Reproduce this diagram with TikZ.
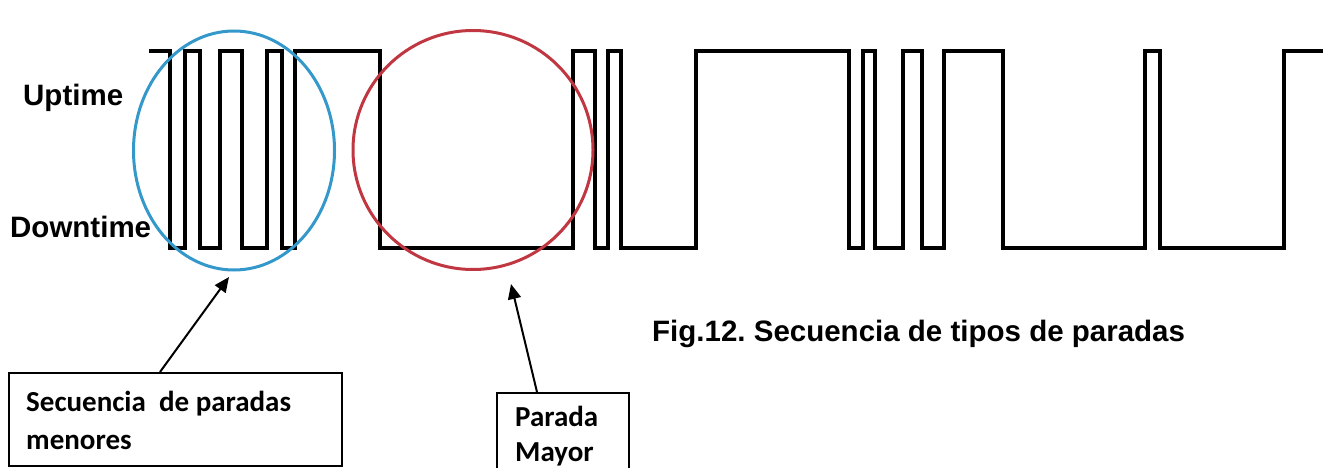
\documentclass[tikz,border=0pt]{standalone}
\usepackage{fontspec}
\setmainfont{Liberation Sans}
\newfontfamily\calib{Carlito}
\usetikzlibrary{shapes.geometric,arrows.meta,calc}
\definecolor{ringblue}{RGB}{52,152,202}
\definecolor{ringred}{RGB}{192,55,65}
\tikzset{
  wave/.style={line width=3.8pt, line join=miter, draw=black},
  ring/.style={ellipse, draw, line width=3pt, inner sep=0pt},
  lbl/.style={font=\fontsize{29.5}{34}\selectfont\bfseries, anchor=base west, inner sep=0pt},
  boxtxt/.style={font=\calib\fontsize{29}{34}\selectfont\bfseries, anchor=base west, inner sep=0pt},
  callout/.style={draw, line width=2pt, inner sep=0pt, anchor=north west},
  pointer/.style={line width=2pt, -{Triangle[length=15pt,width=13pt]}}
}
\frenchspacing
\begin{document}
\begin{tikzpicture}[x=1pt,y=-1pt]
\useasboundingbox (0,0) rectangle (1330,468);
% waveform
\draw[wave] (149,51) -- (170,51) -- (170,248) -- (185,248) -- (185,51) -- (200,51) -- (200,248) -- (220,248) -- (220,51) -- (242,51) -- (242,248) -- (267,248) -- (267,51) -- (282,51) -- (282,248) -- (295,248) -- (295,51) -- (380,51) -- (380,248) -- (573,248) -- (573,51) -- (595,51) -- (595,248) -- (608,248) -- (608,51) -- (621,51) -- (621,248) -- (696,248) -- (696,51) -- (849,51) -- (849,248) -- (863,248) -- (863,51) -- (875,51) -- (875,248) -- (903,248) -- (903,51) -- (922,51) -- (922,248) -- (944,248) -- (944,51) -- (1003,51) -- (1003,248) -- (1145,248) -- (1145,51) -- (1160,51) -- (1160,248) -- (1284,248) -- (1284,51) -- (1323,51);
% rings
\node[ring, draw=ringblue, minimum width=201pt, minimum height=239pt] (blue) at (234,150.5) {};
\node[ring, draw=ringred, minimum width=240pt, minimum height=239pt] (red) at (473,150) {};
% labels
\node[lbl] (up) at (23,106) {Uptime};
\node[lbl] (down) at (10,237) {Downtime};
\node[lbl] (fig) at (652,341) {Fig.12. Secuencia de tipos de paradas};
% callout boxes
\node[callout, minimum width=333pt, minimum height=93pt] (box1) at (8,372) {};
\node[boxtxt] (t1a) at (26,411) {Secuencia\ \ de paradas};
\node[boxtxt] (t1b) at (26,449) {menores};
\node[callout, minimum width=132pt, minimum height=100pt] (box2) at (496,392) {};
\node[boxtxt] (t2a) at (515,426) {Parada};
\node[boxtxt] (t2b) at (515,461) {Mayor};
% pointers
\coordinate (tipA) at (229,277);
\coordinate (tipB) at (511,284);
\draw[pointer] ($(box1.north west)+(152,0)$) -- (tipA);
\draw[pointer] ($(box2.north west)+(41,0)$) -- (tipB);
\end{tikzpicture}
\end{document}
